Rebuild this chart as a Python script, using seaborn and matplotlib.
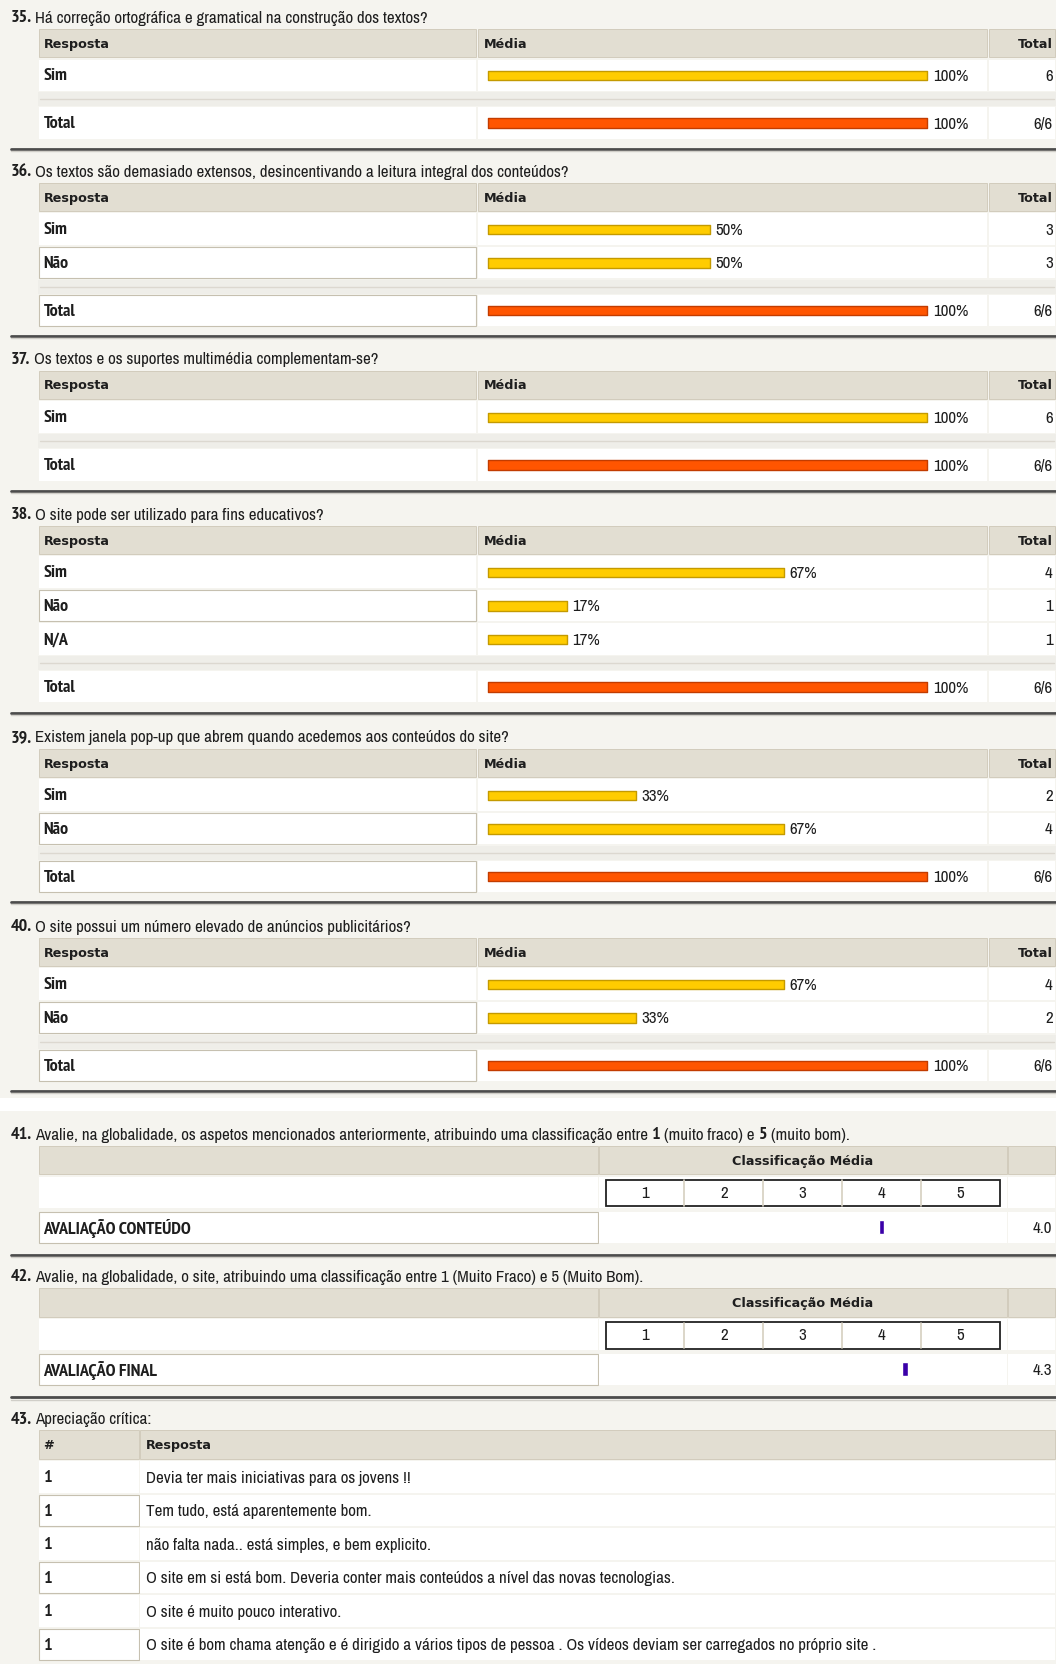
import matplotlib
matplotlib.use('Agg')
import matplotlib.pyplot as plt
from matplotlib.patches import Rectangle
from matplotlib import font_manager
from matplotlib.font_manager import FontProperties
import seaborn as sns

sns.set_theme(style='white')

q35_text = 'Há correção ortográfica e gramatical na construção dos textos?'
q35_labels = ['Sim']
q35_pct = [100]
q35_n = ['6']

q36_text = 'Os textos são demasiado extensos, desincentivando a leitura integral dos conteúdos?'
q36_labels = ['Sim', 'Não']
q36_pct = [50, 50]
q36_n = ['3', '3']

q37_text = 'Os textos e os suportes multimédia complementam-se?'
q37_labels = ['Sim']
q37_pct = [100]
q37_n = ['6']

q38_text = 'O site pode ser utilizado para fins educativos?'
q38_labels = ['Sim', 'Não', 'N/A']
q38_pct = [67, 17, 17]
q38_n = ['4', '1', '1']

q39_text = 'Existem janela pop-up que abrem quando acedemos aos conteúdos do site?'
q39_labels = ['Sim', 'Não']
q39_pct = [33, 67]
q39_n = ['2', '4']

q40_text = 'O site possui um número elevado de anúncios publicitários?'
q40_labels = ['Sim', 'Não']
q40_pct = [67, 33]
q40_n = ['4', '2']

total_pct = 100
total_n = '6/6'

q41_label = 'AVALIAÇÃO CONTEÚDO'
q41_score = 4.0
q42_text = 'Avalie, na globalidade, o site, atribuindo uma classificação entre 1 (Muito Fraco) e 5 (Muito Bom).'
q42_label = 'AVALIAÇÃO FINAL'
q42_score = 4.3
scale_ticks = [1, 2, 3, 4, 5]

q43_text = 'Apreciação crítica:'
q43_counts = ['1', '1', '1', '1', '1', '1']
q43_answers = [
    'Devia ter mais iniciativas para os jovens !!',
    'Tem tudo, está aparentemente bom.',
    'não falta nada.. está simples, e bem explicito.',
    'O site em si está bom. Deveria conter mais conteúdos a nível das novas tecnologias.',
    'O site é muito pouco interativo.',
    'O site é bom chama atenção e é dirigido a vários tipos de pessoa . Os vídeos deviam ser carregados no próprio site .',
]

# ---- cores / fontes ----
BG = '#f5f4ef'
HEAD = '#e2ded2'
HEAD_EDGE = '#d2ccbc'
TXT = '#1e1e1e'
YEL, YEL_E = '#ffcc00', '#c49a00'
ORA, ORA_E = '#ff5500', '#c23c00'
MARK = '#3a00a8'


def weight_of(f):
    w = f.weight
    if isinstance(w, str):
        w = font_manager.weight_dict.get(w, 400)
    return w


def narrow_font(bold):
    # procura uma fonte estreita (tipo Arial Narrow) instalada
    best, score = None, -1
    for f in font_manager.fontManager.ttflist:
        if f.style != 'normal':
            continue
        name = f.name + ' ' + f.fname.split('/')[-1]
        if (weight_of(f) >= 600) != bold:
            continue
        s = -1
        if 'Liberation Sans Narrow' in f.name:
            s = 10
        elif 'Narrow' in name:
            s = 8
        elif 'Condensed' in name and 'Extra' not in name and 'Semi' not in name and 'Ultra' not in name:
            s = 6 if f.name.startswith(('Roboto', 'Noto Sans', 'Open Sans')) else 4
            if 'Mono' in name or 'Display' in name:
                s = 1
        if s > score:
            best, score = f.fname, s
    return best


reg_path = narrow_font(False)
bold_path = narrow_font(True)
if reg_path and bold_path:
    F_REG = FontProperties(fname=reg_path, size=12.2)
    F_BOLD = FontProperties(fname=bold_path, size=13)
else:
    F_REG = FontProperties(family='Liberation Sans', size=10.2)
    F_BOLD = FontProperties(family='Liberation Sans', weight='bold', size=10.2)
F_HEAD = FontProperties(family='DejaVu Sans', weight='bold', size=9.2)

fig = plt.figure(figsize=(10.56, 16.65), dpi=100)
fig.patch.set_facecolor(BG)
ax = fig.add_axes([0, 0, 1, 1])
ax.set_xlim(0, 994)
ax.set_ylim(1568, 0)
ax.axis('off')
R = fig.canvas.get_renderer()
PX = 1056 / 994


def rect(x0, y0, w, h, fc, ec='none', lw=0.8, z=1):
    ax.add_patch(Rectangle((x0, y0), w, h, fc=fc, ec=ec, lw=lw, zorder=z))


def txt(x, y, s, bold=False, ha='left', fp=None):
    return ax.text(x, y, s, fontproperties=fp or (F_BOLD if bold else F_REG),
                   va='center', ha=ha, color=TXT, zorder=5)


def rich(x, y, parts):
    for s, bold in parts:
        t = txt(x, y, s, bold)
        x += t.get_window_extent(R).width / PX + 3.4


def header(y, cols, texts):
    for (x0, x1) in cols:
        rect(x0 + 0.5, y, x1 - x0 - 1, 27, HEAD, HEAD_EDGE, 0.7)
    for x, s, ha in texts:
        txt(x, y + 13.5, s, ha=ha, fp=F_HEAD)


def row(yc, cols, boxed=False):
    for i, (x0, x1) in enumerate(cols):
        ec = '#c6c0b0' if (boxed and i == 0) else 'none'
        rect(x0 + 0.5, yc - 15, x1 - x0 - 1, 29.5, 'white', ec, 0.8)


def divider(y):
    ax.plot([10, 994], [y, y], color='#4c4c4c', lw=2, zorder=4)
    ax.plot([10, 994], [y + 2, y + 2], color='#d0cec8', lw=1, zorder=4)


COLS = [(36, 449), (449, 930), (930, 994)]
BAR_X, BAR_W = 459, 409


def choice_section(y0, num, question, labels, pcts, counts, boxed_total):
    rich(10, y0, [(f'{num}.', True), (question, False)])
    header(y0 + 11, COLS, [(41, 'Resposta', 'left'), (455, 'Média', 'left'),
                           (991, 'Total', 'right')])
    ys = [y0 + 55 + 31.5 * i for i in range(len(labels))]
    for y, lab in zip(ys, labels):
        row(y, COLS, boxed=(lab == 'Não'))
        txt(41, y, lab, bold=True)
    widths = [5 + p / 100 * BAR_W for p in pcts]
    ax.barh(ys, widths, left=BAR_X, height=9, color=YEL, edgecolor=YEL_E, lw=1,
            joinstyle='round', zorder=3)
    for y, w, p, n in zip(ys, widths, pcts, counts):
        txt(BAR_X + w + 5, y, f'{p}%')
        txt(991, y, n, ha='right')
    # linha separadora
    ys_sp = ys[-1] + 16
    rect(36, ys_sp, 958, 13, '#efeee9')
    ax.plot([38, 992], [ys_sp + 6.5, ys_sp + 6.5], color='#dcd8d0', lw=1, zorder=2)
    yt = ys[-1] + 45
    row(yt, COLS, boxed=boxed_total)
    txt(41, yt, 'Total', bold=True)
    wt = 5 + total_pct / 100 * BAR_W
    ax.barh([yt], [wt], left=BAR_X, height=9, color=ORA, edgecolor=ORA_E, lw=1,
            joinstyle='round', zorder=3)
    txt(BAR_X + wt + 5, yt, f'{total_pct}%')
    txt(991, yt, total_n, ha='right')
    divider(yt + 24)


sections = [
    (17, 35, q35_text, q35_labels, q35_pct, q35_n, False),
    (162, 36, q36_text, q36_labels, q36_pct, q36_n, True),
    (339, 37, q37_text, q37_labels, q37_pct, q37_n, False),
    (485, 38, q38_text, q38_labels, q38_pct, q38_n, False),
    (695, 39, q39_text, q39_labels, q39_pct, q39_n, True),
    (873, 40, q40_text, q40_labels, q40_pct, q40_n, True),
]
for s in sections:
    choice_section(*s)

# faixa branca entre blocos
rect(0, 1035, 994, 12, 'white', z=0.5)

RCOLS = [(36, 563), (563, 948), (948, 994)]
BOX_X0, BOX_X1 = 570, 941
CELL = (BOX_X1 - BOX_X0) / len(scale_ticks)


def rating_section(y0, parts, label, score):
    rich(10, y0, parts)
    header(y0 + 11, RCOLS, [(755.5, 'Classificação Média', 'center')])
    ys = y0 + 55
    row(ys, RCOLS)
    rect(BOX_X0, ys - 12, BOX_X1 - BOX_X0, 25, 'white', '#222222', 1.3, z=2)
    for i, t in enumerate(scale_ticks):
        if i > 0:
            ax.plot([BOX_X0 + CELL * i] * 2, [ys - 11.5, ys + 12.5], color='#d6d0c0', lw=1.2, zorder=3)
        txt(BOX_X0 + CELL * (i + 0.5), ys, str(t), ha='center')
    yi = y0 + 88
    row(yi, RCOLS, boxed=True)
    txt(41, yi, label, bold=True)
    mx = BOX_X0 + (score - scale_ticks[0] + 0.5) * CELL
    ax.bar([mx], [13], bottom=yi - 7, width=5.5, color=MARK, zorder=3)
    txt(990, yi, f'{score:.1f}', ha='right')
    divider(y0 + 114)


rating_section(1069, [('41.', True),
                      ('Avalie, na globalidade, os aspetos mencionados anteriormente, atribuindo uma classificação entre', False),
                      ('1', True), ('(muito fraco) e', False), ('5', True), ('(muito bom).', False)],
               q41_label, q41_score)
rating_section(1203, [('42.', True), (q42_text, False)], q42_label, q42_score)

# 43
y0 = 1337
rich(10, y0, [('43.', True), (q43_text, False)])
CCOLS = [(36, 131), (131, 994)]
header(y0 + 11, CCOLS, [(41, '#', 'left'), (137, 'Resposta', 'left')])
for i, (c, a) in enumerate(zip(q43_counts, q43_answers)):
    y = 1392 + 31.6 * i
    row(y, CCOLS, boxed=(i % 2 == 1))
    txt(41, y, c, bold=True)
    txt(137, y, a)

fig.savefig('out.png', dpi=100, facecolor=BG)
